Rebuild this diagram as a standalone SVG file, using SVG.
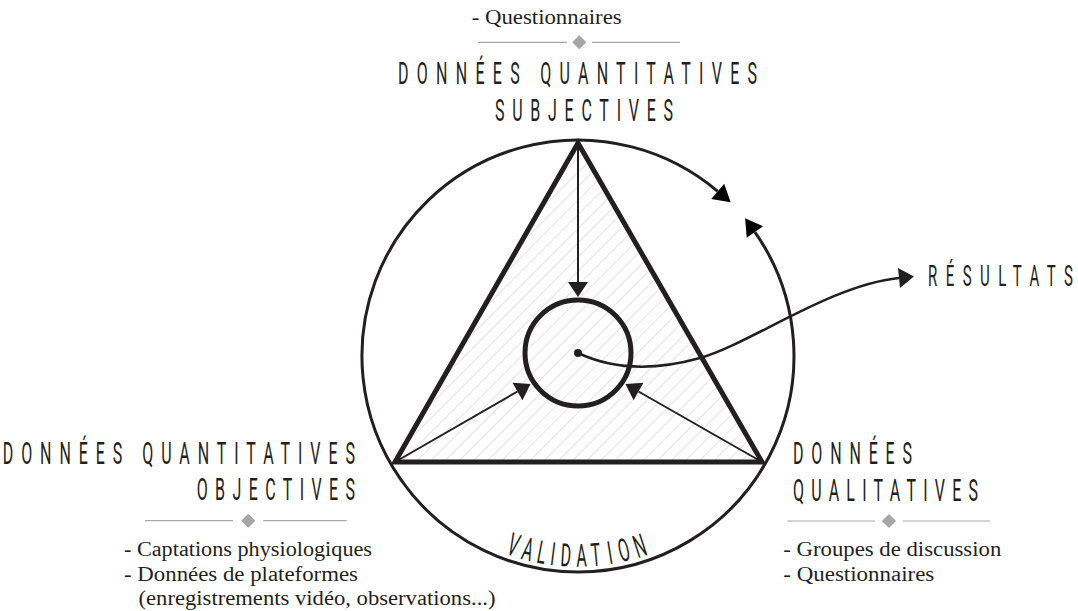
<svg xmlns="http://www.w3.org/2000/svg" width="1078" height="611" viewBox="0 0 1078 611">
<style>
.cap{font-family:Roboto,"DejaVu Sans",sans-serif;font-size:32px;font-weight:400;fill:#231f20}
.ser{font-family:"Liberation Serif","Times New Roman",serif;font-size:20px;fill:#231f20}
.div{stroke:#a8a8a8;stroke-width:1.2}
.dia{fill:#a6a6a6}
.ln{fill:none;stroke:#231f20}
</style>
<defs>
<pattern id="hatch" width="10" height="10" patternUnits="userSpaceOnUse" patternTransform="rotate(45)">
<line x1="0" y1="0" x2="0" y2="10" stroke="#cdcdcd" stroke-width="1.1"/>
</pattern>
<marker id="ah" markerUnits="userSpaceOnUse" markerWidth="20" markerHeight="22" refX="0" refY="10" orient="auto" viewBox="0 0 20 20" overflow="visible">
<path d="M0,0 L15,10 L0,20 Z" fill="#231f20"/>
</marker>
<marker id="ahl" markerUnits="userSpaceOnUse" markerWidth="20" markerHeight="22" refX="0" refY="10" orient="auto" viewBox="0 0 20 20" overflow="visible">
<path d="M0,0 L17,10 L0,20 Z" fill="#000"/>
</marker>
</defs>

<g id="outer-circle">
<path class="ln" stroke="#000" stroke-width="3" d="M578,572 A216,216 0 1 1 717.7,191.3" marker-end="url(#ahl)"/>
<path class="ln" stroke="#000" stroke-width="3" d="M578,572 A216,216 0 0 0 754.9,232.1" marker-end="url(#ahl)"/>
</g>

<g id="triangle">
<polygon points="578,143 395,462 762,462" fill="url(#hatch)"/>
<polygon points="578,143 395,462 762,462" fill="none" stroke="#231f20" stroke-width="5" stroke-linejoin="miter" stroke-miterlimit="10"/>
</g>

<g id="connectors">
<line class="ln" stroke-width="2" x1="578" y1="143" x2="578" y2="282" marker-end="url(#ah)"/>
<line class="ln" stroke-width="2" x1="395" y1="462" x2="517.5" y2="391.5" marker-end="url(#ah)"/>
<line class="ln" stroke-width="2" x1="762" y1="462" x2="638.5" y2="391.5" marker-end="url(#ah)"/>
<path class="ln" stroke-width="2.5" d="M578,353 C610,368 650,372 700,358 S830,285 899,278" marker-end="url(#ah)"/>
</g>

<g id="center">
<circle cx="578" cy="353" r="53" fill="none" stroke="#231f20" stroke-width="5"/>
<circle cx="578" cy="353" r="4" fill="#231f20"/>
</g>

<g id="node-subjectives">
<text class="ser" x="471.7" y="24" textLength="150" lengthAdjust="spacingAndGlyphs">- Questionnaires</text>
<line class="div" x1="478" y1="42.3" x2="567" y2="42.3"/>
<rect class="dia" x="-5" y="-5" width="10" height="10" transform="translate(579.3,42.3) rotate(45)"/>
<line class="div" x1="592" y1="42.3" x2="680" y2="42.3"/>
<text class="cap" transform="translate(398,83.5) scale(0.5,1)" textLength="718" lengthAdjust="spacing">DONNÉES QUANTITATIVES</text>
<text class="cap" transform="translate(495,121) scale(0.5,1)" textLength="356" lengthAdjust="spacing">SUBJECTIVES</text>
</g>

<g id="node-objectives">
<text class="cap" transform="translate(2.7,463.5) scale(0.5,1)" textLength="704.6" lengthAdjust="spacing">DONNÉES QUANTITATIVES</text>
<text class="cap" transform="translate(196.7,500) scale(0.5,1)" textLength="316.6" lengthAdjust="spacing">OBJECTIVES</text>
<line class="div" x1="145" y1="520.7" x2="233" y2="520.7"/>
<rect class="dia" x="-5" y="-5" width="10" height="10" transform="translate(248.3,520.7) rotate(45)"/>
<line class="div" x1="263.3" y1="520.7" x2="346.7" y2="520.7"/>
<text class="ser" x="124" y="556" textLength="248" lengthAdjust="spacingAndGlyphs">- Captations physiologiques</text>
<text class="ser" x="124" y="580.5" textLength="234" lengthAdjust="spacingAndGlyphs">- Données de plateformes</text>
<text class="ser" x="138.5" y="605" textLength="357" lengthAdjust="spacingAndGlyphs">(enregistrements vidéo, observations...)</text>
</g>

<g id="node-qualitatives">
<text class="cap" transform="translate(793,463.5) scale(0.5,1)" textLength="238" lengthAdjust="spacing">DONNÉES</text>
<text class="cap" transform="translate(793,501) scale(0.5,1)" textLength="370" lengthAdjust="spacing">QUALITATIVES</text>
<line class="div" x1="787.3" y1="521" x2="875" y2="521"/>
<rect class="dia" x="-5" y="-5" width="10" height="10" transform="translate(889,521) rotate(45)"/>
<line class="div" x1="902.7" y1="521" x2="990" y2="521"/>
<text class="ser" x="783.3" y="556" textLength="218" lengthAdjust="spacingAndGlyphs">- Groupes de discussion</text>
<text class="ser" x="783.3" y="580.5" textLength="151" lengthAdjust="spacingAndGlyphs">- Questionnaires</text>
</g>

<g id="node-resultats">
<text class="cap" style="font-size:30px" transform="translate(928,286) scale(0.5,1)" textLength="290" lengthAdjust="spacing">RÉSULTATS</text>
</g>

<g id="label-validation" class="cap">
<text transform="rotate(18.8 578 356) translate(578 566.7) scale(0.5,1)" text-anchor="middle">V</text>
<text transform="rotate(14.5 578 356) translate(578 566.7) scale(0.5,1)" text-anchor="middle">A</text>
<text transform="rotate(10.4 578 356) translate(578 566.7) scale(0.5,1)" text-anchor="middle">L</text>
<text transform="rotate(7.2 578 356) translate(578 566.7) scale(0.5,1)" text-anchor="middle">I</text>
<text transform="rotate(3.5 578 356) translate(578 566.7) scale(0.5,1)" text-anchor="middle">D</text>
<text transform="rotate(-1.0 578 356) translate(578 566.7) scale(0.5,1)" text-anchor="middle">A</text>
<text transform="rotate(-5.1 578 356) translate(578 566.7) scale(0.5,1)" text-anchor="middle">T</text>
<text transform="rotate(-9.2 578 356) translate(578 566.7) scale(0.5,1)" text-anchor="middle">I</text>
<text transform="rotate(-13.3 578 356) translate(578 566.7) scale(0.5,1)" text-anchor="middle">O</text>
<text transform="rotate(-18.0 578 356) translate(578 566.7) scale(0.5,1)" text-anchor="middle">N</text>
</g>
</svg>
